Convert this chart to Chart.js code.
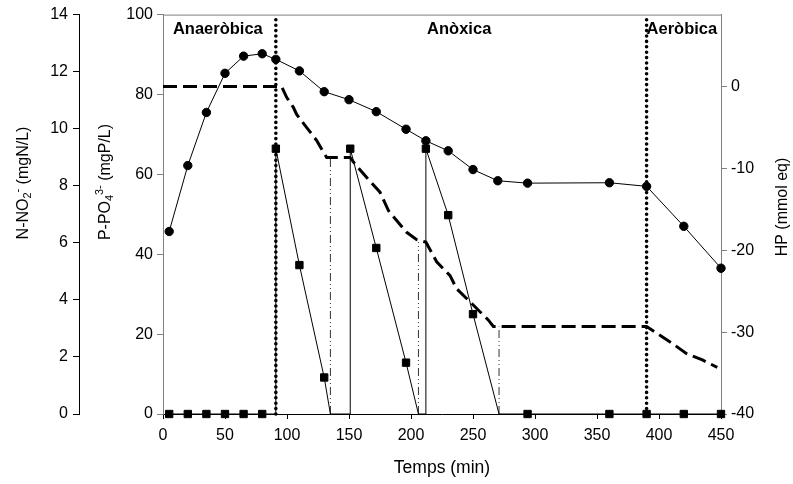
<!DOCTYPE html>
<html><head><meta charset="utf-8">
<script src="https://cdn.jsdelivr.net/npm/chart.js@4"></script>
<style>html,body{margin:0;padding:0;background:#fff;} #wrap{width:793px;height:484px;}</style>
</head><body><div id="wrap"><canvas id="c" width="793" height="484"></canvas></div>
<script>
// ---- data ----
const phosphateTime = [5,20,35,50,65,80,91,110,130,150,172,196,212,230,250,270,294,360,390,420,450];
const phosphate = [45.7,62.2,75.5,85.3,89.6,90.2,88.8,85.9,80.7,78.7,75.7,71.3,68.4,65.9,61.2,58.4,57.8,57.9,57.0,47.0,36.5];

const nitriteTime = [5,20,35,50,65,80,91,110,130,151,172,196,212,230,250,294,360,390,420,450];
const nitrite = [0,0,0,0,0,0,9.3,5.22,1.28,9.3,5.82,1.8,9.3,6.97,3.5,0,0,0,0,0];
const nitriteAddTime = [91,151,212];
const nitriteDepletionTime = [135,206,271];
const hpAtDepletion = [-8.65,-19.0,-29.3];

const hpTime = [0,95.7,99.7,105,107.8,115.9,124,129.3,132,150.8,154.8,164.3,175,182,196.5,204.6,212,220.7,231.5,236.8,249,255.6,262.3,266.4,390,397,410,422,435,447];
const hp = [0,0,-1.3,-2.5,-3.4,-5.0,-6.6,-8.0,-8.65,-8.65,-9.45,-11.1,-12.9,-15.2,-17.8,-18.7,-19.0,-21.4,-23.1,-24.7,-26.5,-27.5,-28.5,-29.3,-29.3,-30.0,-31.3,-32.6,-33.4,-34.3];

const phaseBoundaries = [91,390];
const phaseNames = ['Anaeròbica','Anòxica','Aeròbica'];

const xTicksMax = 450;

// ---- build ----
const FONT = "'Liberation Sans', Arial, sans-serif";
const nitriteLine = [];
nitriteTime.forEach((t,i)=>{
  if (nitriteAddTime.includes(t)) nitriteLine.push({x:t,y:0,k:0});
  nitriteLine.push({x:t,y:nitrite[i],k:1});
});
nitriteDepletionTime.forEach(t=>nitriteLine.push({x:t,y:0,k:0}));
nitriteLine.sort((a,b)=>a.x-b.x || a.k-b.k);

const datasets = [
  {data: phosphateTime.map((t,i)=>({x:t,y:phosphate[i]})), yAxisID:'yP', borderColor:'#000', backgroundColor:'#000', borderWidth:1,
   pointStyle:'circle', pointRadius:4.2, pointHoverRadius:4.2, clip:false},
  {data: nitriteLine, yAxisID:'yN', borderColor:'#000', backgroundColor:'#000', borderWidth:1,
   pointStyle:'rect', pointRadius: nitriteLine.map(p=>p.k?5.2:0), pointHoverRadius:0, clip:false},
  {data: hpTime.map((t,i)=>({x:t,y:hp[i]})), yAxisID:'yHP', borderColor:'#000', borderWidth:3, borderDash:[14,6],
   pointRadius:0, clip:false}
];
nitriteDepletionTime.forEach((t,i)=>{
  datasets.push({data:[{x:t,y:-40},{x:t,y:hpAtDepletion[i]}], yAxisID:'yHP', borderColor:'#333', borderWidth:1,
    borderDash:[8,3,1,3,1,3], pointRadius:0, clip:false});
});
phaseBoundaries.forEach(t=>{
  datasets.push({data:[{x:t,y:0},{x:t,y:100}], yAxisID:'yP', borderColor:'#000', borderWidth:3.6,
    borderDash:[0,5.4], borderCapStyle:'round', pointRadius:0, clip:false});
});

function drawRich(ctx, parts, cx, cy, rot, size){
  ctx.save();
  ctx.translate(cx, cy);
  if (rot) ctx.rotate(-Math.PI/2);
  let total = 0;
  const ws = parts.map(p=>{
    ctx.font = (p.s? size*0.68 : size) + 'px ' + FONT;
    const w = ctx.measureText(p.t).width; total += w; return w;
  });
  let x = -total/2;
  const base = size*0.36;
  ctx.fillStyle = '#000';
  ctx.textBaseline = 'alphabetic';
  ctx.textAlign = 'left';
  parts.forEach((p,i)=>{
    ctx.font = (p.s? size*0.68 : size) + 'px ' + FONT;
    let y = base;
    if (p.s==='sub') y += size*0.22;
    if (p.s==='sup') y -= size*0.42;
    ctx.fillText(p.t, x, y);
    x += ws[i];
  });
  ctx.restore();
}

const decor = {
  id:'decor',
  afterDraw(chart){
    const ctx = chart.ctx, a = chart.chartArea, xs = chart.scales.x;
    ctx.save();
    ctx.strokeStyle = '#808080'; ctx.lineWidth = 1;
    ctx.beginPath(); ctx.moveTo(a.left, a.top+0.5); ctx.lineTo(a.right, a.top+0.5); ctx.stroke();
    ctx.restore();
    // phase labels
    ctx.save();
    ctx.fillStyle = '#000';
    ctx.font = 'bold 16.5px ' + FONT;
    ctx.textBaseline = 'alphabetic';
    ctx.textAlign = 'left';
    const labelX = [xs.getPixelForValue(8), xs.getPixelForValue(213), xs.getPixelForValue(phaseBoundaries[1])];
    phaseNames.forEach((n,i)=>ctx.fillText(n, labelX[i], 34));
    ctx.restore();
    // axis titles
    drawRich(ctx, [{t:'Temps (min)'}], (a.left+a.right)/2, 467, false, 17.5);
    drawRich(ctx, [{t:'N-NO'},{t:'2',s:'sub'},{t:'-',s:'sup'},{t:' (mgN/L)'}], 22, 183, true, 16);
    drawRich(ctx, [{t:'P-PO'},{t:'4',s:'sub'},{t:'3-',s:'sup'},{t:' (mgP/L)'}], 104, 182, true, 16);
    drawRich(ctx, [{t:'HP (mmol eq)'}], 781, 207, true, 16);
  }
};

const tickFont = {family: FONT, size: 16};
new Chart(document.getElementById('c'), {
  type:'line',
  data:{datasets},
  options:{
    responsive:false, animation:false, devicePixelRatio:1,
    layout:{padding:{top:13,left:0,right:0,bottom:0}},
    plugins:{legend:{display:false}, tooltip:{enabled:false}},
    elements:{line:{tension:0}},
    scales:{
      x:{type:'linear', position:'bottom', min:0, max:xTicksMax,
         ticks:{stepSize:50, font:tickFont, color:'#000', padding:7, maxRotation:0},
         grid:{drawOnChartArea:false, drawTicks:true, tickLength:5, color:'#000'},
         border:{color:'#000', width:1},
         afterFit(s){ s.height = 70; }},
      yP:{type:'linear', position:'left', min:0, max:100, weight:0,
         ticks:{stepSize:20, font:tickFont, color:'#000', padding:4},
         grid:{drawOnChartArea:false, tickLength:6, color:'#808080'},
         border:{color:'#808080', width:1},
         afterFit(s){ s.width = 84; }},
      yN:{type:'linear', position:'left', min:0, max:14, weight:1,
         ticks:{stepSize:2, font:tickFont, color:'#000', padding:5},
         grid:{drawOnChartArea:false, tickLength:6, color:'#000'},
         border:{color:'#000', width:1},
         afterFit(s){ s.width = 79; }},
      yHP:{type:'linear', position:'right', min:-40, max:8.8,
         ticks:{stepSize:10, font:tickFont, color:'#000', padding:4},
         afterBuildTicks(s){ s.ticks = s.ticks.filter(t=>t.value<=0); },
         grid:{drawOnChartArea:false, tickLength:6, color:'#808080'},
         border:{color:'#808080', width:1},
         afterFit(s){ s.width = 72; }}
    }
  },
  plugins:[decor]
});
</script></body></html>
